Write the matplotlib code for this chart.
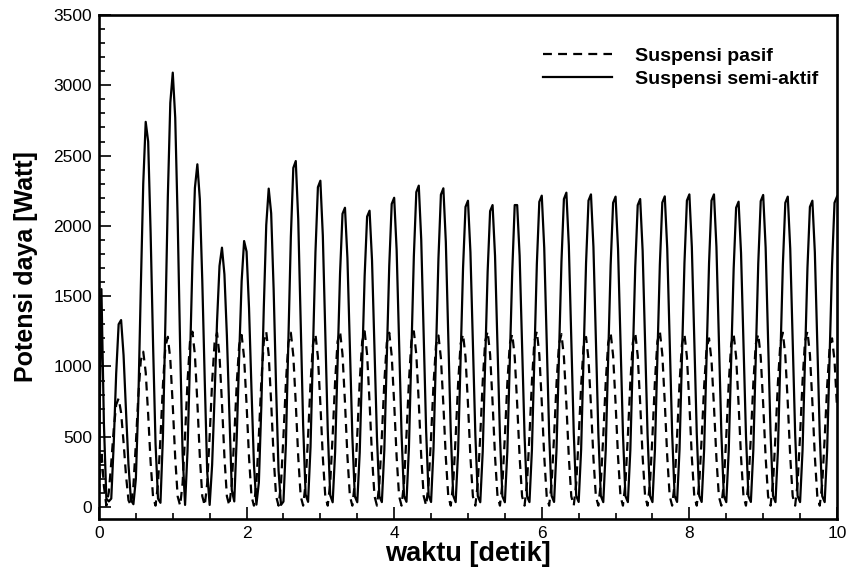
import numpy as np
import matplotlib
matplotlib.use("Agg")
import matplotlib.pyplot as plt
from matplotlib.ticker import MultipleLocator

plt.rcParams['font.family'] = ['Liberation Sans', 'DejaVu Sans']

# ---------------- data (sampled every 1/30 s, 0 .. 10 s) ----------------
sample_step = 1.0 / 30.0

power_semi_aktif = [
    300, 1550, 600, 60, 40,
    60, 450, 950, 1300, 1330, 1080, 680, 300, 50, 20,
    200, 750, 1550, 2300, 2740, 2600, 1950, 1150, 450, 60,
    30, 500, 1316, 2210, 2875, 3090, 2770, 2040, 1137, 377,
    15, 400, 1040, 1745, 2270, 2438, 2190, 1610, 900, 250,
    15, 300, 790, 1320, 1715, 1845, 1655, 1220, 680, 120,
    40, 494, 1073, 1607, 1892, 1817, 1415, 836, 302, 17,
    175, 716, 1415, 2006, 2265, 2090, 1551, 852, 261, 15,
    39, 453, 1174, 1920, 2412, 2461, 2048, 1329, 581, 89,
    37, 427, 1107, 1810, 2275, 2321, 1931, 1253, 548, 84,
    34, 392, 1016, 1661, 2086, 2129, 1771, 1150, 502, 77,
    34, 388, 1006, 1644, 2066, 2108, 1754, 1138, 497, 76,
    35, 405, 1049, 1716, 2156, 2200, 1830, 1188, 519, 79,
    37, 421, 1090, 1783, 2240, 2286, 1902, 1234, 539, 82,
    36, 417, 1081, 1768, 2222, 2267, 1886, 1224, 535, 82,
    35, 401, 1039, 1700, 2135, 2179, 1813, 1177, 514, 78,
    34, 395, 1025, 1675, 2105, 2148, 1787, 1160, 507, 77,
    34, 395, 1025, 1675, 2148, 2148, 1787, 1160, 507, 77,
    35, 408, 1057, 1728, 2171, 2215, 1843, 1196, 523, 80,
    36, 411, 1067, 1744, 2191, 2236, 1860, 1207, 528, 80,
    36, 409, 1061, 1735, 2180, 2224, 1850, 1201, 525, 80,
    35, 406, 1053, 1722, 2164, 2208, 1837, 1192, 521, 79,
    35, 403, 1045, 1709, 2147, 2191, 1823, 1183, 517, 79,
    35, 407, 1054, 1724, 2166, 2210, 1839, 1193, 522, 80,
    36, 409, 1061, 1735, 2180, 2224, 1850, 1201, 525, 80,
    36, 409, 1061, 1735, 2180, 2224, 1850, 1201, 525, 80,
    35, 400, 1036, 1694, 2129, 2172, 1807, 1173, 513, 78,
    36, 408, 1059, 1732, 2176, 2220, 1847, 1199, 524, 80,
    35, 406, 1053, 1722, 2164, 2208, 1837, 1192, 521, 79,
    35, 401, 1039, 1700, 2135, 2179, 1813, 1177, 514, 78,
    35, 406, 1053, 1722, 2164, 2208,
]

power_pasif = [
    100, 400, 150,
    10, 105, 315, 553, 728, 773, 671, 461, 223, 48,
    10, 150, 451, 791, 1041, 1105, 959, 659, 318, 69,
    10, 165, 494, 867, 1141, 1211, 1051, 722, 349, 75,
    10, 170, 509, 893, 1175, 1247, 1082, 743, 359, 77,
    10, 169, 506, 888, 1168, 1240, 1076, 739, 357, 77,
    10, 166, 499, 876, 1153, 1224, 1062, 730, 353, 76,
    10, 170, 509, 893, 1175, 1247, 1082, 743, 359, 77,
    10, 169, 506, 888, 1168, 1240, 1076, 739, 357, 77,
    10, 167, 502, 881, 1159, 1230, 1068, 733, 354, 76,
    10, 170, 510, 895, 1178, 1250, 1085, 745, 360, 78,
    10, 170, 510, 895, 1178, 1250, 1085, 745, 360, 78,
    10, 169, 506, 888, 1168, 1240, 1076, 739, 357, 77,
    10, 170, 510, 895, 1178, 1250, 1085, 745, 360, 78,
    10, 166, 498, 874, 1149, 1220, 1059, 727, 351, 76,
    10, 167, 502, 881, 1159, 1230, 1068, 733, 354, 76,
    10, 170, 510, 895, 1178, 1250, 1085, 745, 360, 78,
    10, 167, 502, 881, 1159, 1230, 1068, 733, 354, 76,
    10, 170, 510, 895, 1178, 1250, 1085, 745, 360, 78,
    10, 167, 502, 881, 1159, 1230, 1068, 733, 354, 76,
    10, 165, 494, 866, 1140, 1210, 1050, 721, 348, 75,
    10, 169, 506, 888, 1168, 1240, 1076, 739, 357, 77,
    10, 169, 506, 888, 1168, 1240, 1076, 739, 357, 77,
    10, 170, 510, 895, 1178, 1250, 1085, 745, 360, 78,
    10, 167, 502, 881, 1159, 1230, 1068, 733, 354, 76,
    10, 163, 490, 859, 1130, 1200, 1042, 715, 346, 74,
    10, 167, 502, 881, 1159, 1230, 1068, 733, 354, 76,
    10, 167, 502, 881, 1159, 1230, 1068, 733, 354, 76,
    10, 169, 506, 888, 1168, 1240, 1076, 739, 357, 77,
    10, 170, 510, 895, 1178, 1250, 1085, 745, 360, 78,
    10, 163, 490, 859, 1130, 1200, 1042, 715,
]

series_labels = ["Suspensi pasif", "Suspensi semi-aktif"]
x_label = "waktu [detik]"
y_label = "Potensi daya [Watt]"
x_ticks = [0, 2, 4, 6, 8, 10]
y_ticks = [0, 500, 1000, 1500, 2000, 2500, 3000, 3500]

time = np.arange(len(power_semi_aktif)) * sample_step
time_p = np.arange(len(power_pasif)) * sample_step

# ---------------- figure ----------------
fig = plt.figure(figsize=(8.48, 5.70), dpi=100)
ax = fig.add_axes([0.1167, 0.0895, 0.8703, 0.8842])

ax.plot(time_p, power_pasif, color='black', lw=1.6,
        linestyle=(0, (4.0, 2.8)), label=series_labels[0])
ax.plot(time, power_semi_aktif, color='black', lw=1.6,
        linestyle='-', label=series_labels[1])

ax.set_xlim(0, 10)
ax.set_ylim(-85, 3500)
ax.set_xticks(x_ticks)
ax.set_yticks(y_ticks)
ax.xaxis.set_minor_locator(MultipleLocator(0.5))
ax.yaxis.set_minor_locator(MultipleLocator(100))

ax.tick_params(which='both', direction='in', top=False, right=False,
               labelsize=12.5, width=1.2, color='black')
ax.tick_params(which='major', length=8.5, pad=5)
ax.tick_params(which='minor', length=4.3)

for sp in ax.spines.values():
    sp.set_linewidth(1.9)

ax.set_xlabel(x_label, fontsize=19.5, fontweight='bold', labelpad=0)
ax.set_ylabel(y_label, fontsize=18, fontweight='bold', labelpad=11)

ax.legend(loc='upper left', bbox_to_anchor=(0.6016, 0.9365),
          frameon=False, prop={'weight': 'bold', 'size': 14},
          handlelength=3.55, handletextpad=1.2, labelspacing=0.3,
          borderpad=0, borderaxespad=0)

fig.savefig("out.png", dpi=100)
